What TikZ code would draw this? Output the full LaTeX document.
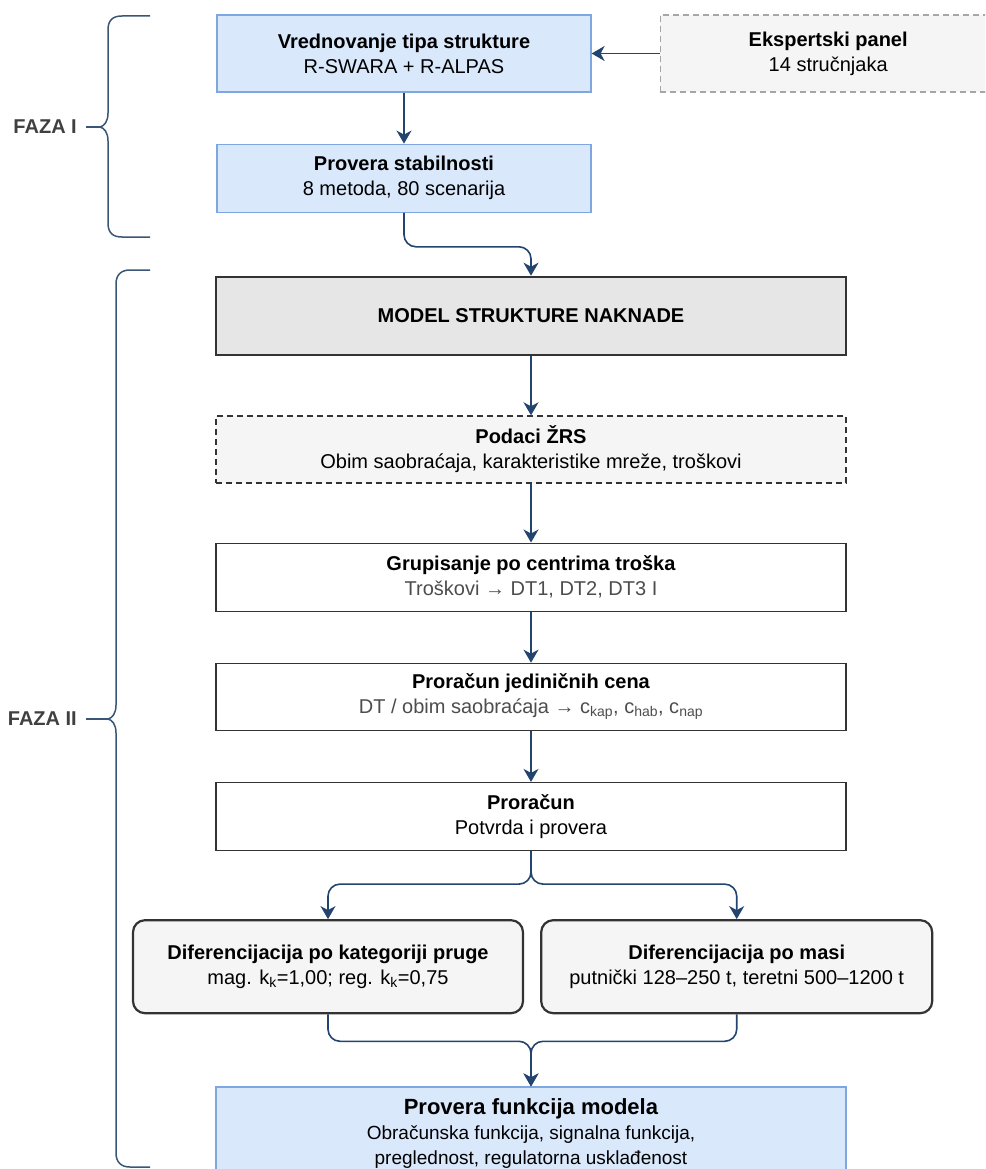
\documentclass[tikz,border=0pt]{standalone}
\usepackage{fontspec}
\setmainfont{Liberation Sans}
\usepackage{tikz}
\usetikzlibrary{arrows.meta, positioning}
\definecolor{bluefill}{HTML}{DAE8FC}
\definecolor{blueline}{HTML}{7EA6E0}
\definecolor{navy}{HTML}{23446E}
\definecolor{bracecol}{HTML}{3A5677}
\definecolor{greyfill}{HTML}{F5F5F5}
\definecolor{modelfill}{HTML}{E6E6E6}
\definecolor{darkline}{HTML}{333333}
\definecolor{labelgrey}{HTML}{404040}
\definecolor{subgrey}{HTML}{4D4D4D}

\begin{document}
\begin{tikzpicture}[
      x=1pt, y=-1pt,
      font=\fontsize{20}{25}\selectfont,
      box/.style={
                  draw=darkline, line width=1.2pt, fill=white, align=center,
                  inner sep=0pt, minimum width=630pt, minimum height=68pt
            },
      bluebox/.style={box, draw=blueline, fill=bluefill, minimum width=374pt},
      panelbox/.style={box, draw=gray!70, fill=greyfill, dash pattern=on 6pt off 4pt},
      databox/.style={box, fill=greyfill, dash pattern=on 6pt off 4pt},
      modelbox/.style={box, fill=modelfill, line width=2.6pt, minimum height=78pt},
      diffbox/.style={box, fill=greyfill, line width=2.2pt, rounded corners=12pt,
                  minimum width=390pt, minimum height=93pt},
      phase/.style={font=\fontsize{20}{25}\selectfont\bfseries, text=labelgrey,
                  inner sep=0pt, anchor=east},
      arrow/.style={-{Stealth[length=13pt, width=15pt, inset=4pt]}, line width=1.6pt,
                  draw=navy, rounded corners=12pt},
      brace/.style={line width=1.5pt, draw=bracecol},
]
\useasboundingbox (0,0) rectangle (985,1169);
\clip (0,0) rectangle (985,1169);

% Faza I
\node[bluebox, minimum height=77pt] (vred) at (404,53.5)
      {\textbf{Vrednovanje tipa strukture}\\R-SWARA + R-ALPAS};
\node[panelbox, right=68pt of vred, minimum width=336pt, minimum height=77pt] (expert)
      {\textbf{Ekspertski panel}\\14 stručnjaka};
\node[bluebox, below=51pt of vred] (stab)
      {\textbf{Provera stabilnosti}\\8 metoda, 80 scenarija};

% Faza II
\node[modelbox] (model) at (531,316) {\textbf{MODEL STRUKTURE NAKNADE}};
\node[databox, below=59pt of model, minimum height=67pt] (podaci)
      {\textbf{Podaci ŽRS}\\Obim saobraćaja, karakteristike mreže, troškovi};
\node[box, below=59pt of podaci] (grup)
      {\textbf{Grupisanje po centrima troška}\\\textcolor{subgrey}{Troškovi → DT1, DT2, DT3 I}};
\node[box, below=51pt of grup, minimum height=67pt] (cene)
      {\textbf{Proračun jediničnih cena}\\\textcolor{subgrey}{DT / obim saobraćaja → c\textsubscript{kap}, c\textsubscript{hab}, c\textsubscript{nap}}};
\node[box, below=51pt of cene] (pror)
      {\textbf{Proračun}\\Potvrda i provera};
\node[diffbox, below=68pt of pror, xshift=-203pt] (difkat)
      {\textbf{Diferencijacija po kategoriji pruge}\\mag. k\textsubscript{k}=1,00; reg. k\textsubscript{k}=0,75};
\node[diffbox, right=16pt of difkat, minimum width=391pt] (difmas)
      {\textbf{Diferencijacija po masi}\\putnički 128–250 t, teretni 500–1200 t};
\node[box, draw=blueline, fill=bluefill, minimum height=92pt, font=\fontsize{19}{25}\selectfont] (funk) at (531,1133)
      {{\fontsize{22}{27}\selectfont\textbf{Provera funkcija modela}}\\Obračunska funkcija, signalna funkcija,\\preglednost, regulatorna usklađenost};

% faze
\node[phase] (faza1) at (77,127) {FAZA I};
\node[phase] (faza2) at (77,719) {FAZA II};
\coordinate (tip1) at (100,127);
\coordinate (tip2) at (108,719);

\draw[brace] (150,16) -- (122,16) .. controls (113,16) and (108,20) .. (108,30)
      -- (108,113) .. controls (108,122) and (104,126) .. (tip1)
      .. controls (104,128) and (108,132) .. (108,141)
      -- (108,223) .. controls (108,233) and (113,237) .. (122,237) -- (150,237);
\draw[brace] (150,270) -- (130,270) .. controls (121,270) and (116,275) .. (116,284)
      -- (116,705) .. controls (116,714) and (112,718) .. (tip2)
      .. controls (112,720) and (116,724) .. (116,733)
      -- (116,1153) .. controls (116,1162) and (121,1167) .. (130,1167) -- (150,1167);
\draw[brace, shorten <=9pt] (faza1.east) -- (tip1);
\draw[brace, shorten <=9pt] (faza2.east) -- (tip2);

% tok
\draw[arrow] (expert) -- (vred);
\draw[arrow] (vred) -- (stab);
\draw[arrow] (stab.south) -- ++(0,34) -| (model.north);
\draw[arrow] (model) -- (podaci);
\draw[arrow] (podaci) -- (grup);
\draw[arrow] (grup) -- (cene);
\draw[arrow] (cene) -- (pror);
\draw[arrow] (pror.south) -- ++(0,33) -| (difkat.north);
\draw[arrow] (pror.south) -- ++(0,33) -| (difmas.north);
\draw[arrow] (difkat.south) -- ++(0,27) -| (funk.north);
\draw[arrow] (difmas.south) -- ++(0,27) -| (funk.north);
\end{tikzpicture}
\end{document}
